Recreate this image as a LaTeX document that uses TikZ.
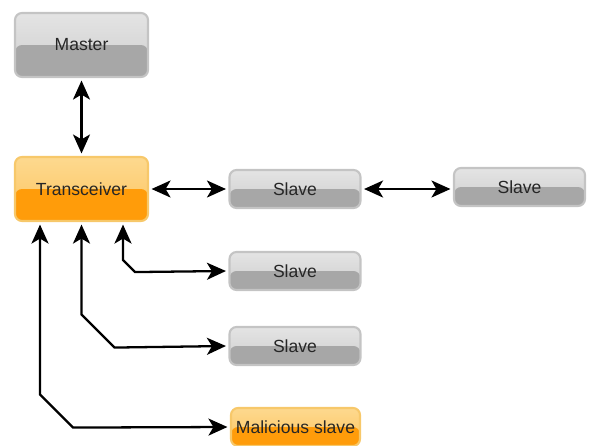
\documentclass[tikz,border=0pt]{standalone}
\usepackage{fontspec}
\setmainfont{Liberation Sans}
\usetikzlibrary{arrows.meta}

\definecolor{boxTop}{HTML}{E4E4E4}
\definecolor{boxMid}{HTML}{CDCDCD}
\definecolor{boxLow}{HTML}{A7A7A7}
\definecolor{boxRim}{HTML}{C4C4C4}
\definecolor{orTop}{HTML}{FDD98F}
\definecolor{orMid}{HTML}{FCC45E}
\definecolor{orLow}{HTML}{FF9C0A}
\definecolor{orRim}{HTML}{F7C86A}

\begin{document}
\begin{tikzpicture}[x = 0.2mm, y = -0.2mm]
\tikzstyle{baseStyle} = [shape = rectangle, rounded corners = 4pt, line width = 1.2pt,
  font = \normalsize, text = black!85, inner sep = 0pt]
\tikzstyle{grayStyle} = [baseStyle, draw = boxRim, top color = boxTop, bottom color = boxMid,
  path picture = {\fill[boxLow] (path picture bounding box.west) rectangle (path picture bounding box.south east);}]
\tikzstyle{orangeStyle} = [baseStyle, draw = orRim, top color = orTop, bottom color = orMid,
  path picture = {\fill[orLow] (path picture bounding box.west) rectangle (path picture bounding box.south east);}]
\tikzstyle{bigStyle} = [minimum width = 26.6mm, minimum height = 12.8mm]
\tikzstyle{smallStyle} = [minimum width = 26.2mm, minimum height = 7.6mm]
\tikzstyle{linkStyle} = [line width = 1.3pt, {Stealth[length=3.8mm, width=3.4mm, inset=1mm]}-{Stealth[length=3.8mm, width=3.4mm, inset=1mm]}]
\useasboundingbox (0,0) rectangle (590,445);
\node[grayStyle, bigStyle] (master) at (81.5,45) {Master};
\node[orangeStyle, bigStyle] (trx) at (81.5,189) {Transceiver};
\node[grayStyle, smallStyle] (s1) at (295,189) {Slave};
\node[grayStyle, smallStyle] (s2) at (519.5,187) {Slave};
\node[grayStyle, smallStyle] (s3) at (295,271) {Slave};
\node[grayStyle, smallStyle] (s4) at (295,346) {Slave};
\node[orangeStyle, smallStyle, minimum width = 25.8mm] (evil) at (295.5,427) {Malicious slave};
\draw[linkStyle] ([yshift=-0.5mm]master.south) -- ([yshift=0.5mm]trx.north);
\draw[linkStyle] ([xshift=0.5mm]trx.east) -- ([xshift=-0.5mm]s1.west);
\draw[linkStyle] ([xshift=0.5mm]s1.east) -- ([xshift=-0.5mm]s2.west |- s1.east);
%\draw[linkStyle] (s1) -- (s2);
\draw[linkStyle] ([xshift=8.3mm, yshift=-0.5mm]trx.south) -- ++(0,35.5) -- ++(12,12) -- ([xshift=-0.5mm]s3.west);
\draw[linkStyle] ([yshift=-0.5mm]trx.south) -- ++(0,90) -- ++(33,33) -- ([xshift=-0.5mm]s4.west);
\draw[linkStyle] ([xshift=-8.3mm, yshift=-0.5mm]trx.south) -- ++(0,170) -- ++(33,33) -- ([xshift=-0.5mm]evil.west);
\end{tikzpicture}
\end{document}
